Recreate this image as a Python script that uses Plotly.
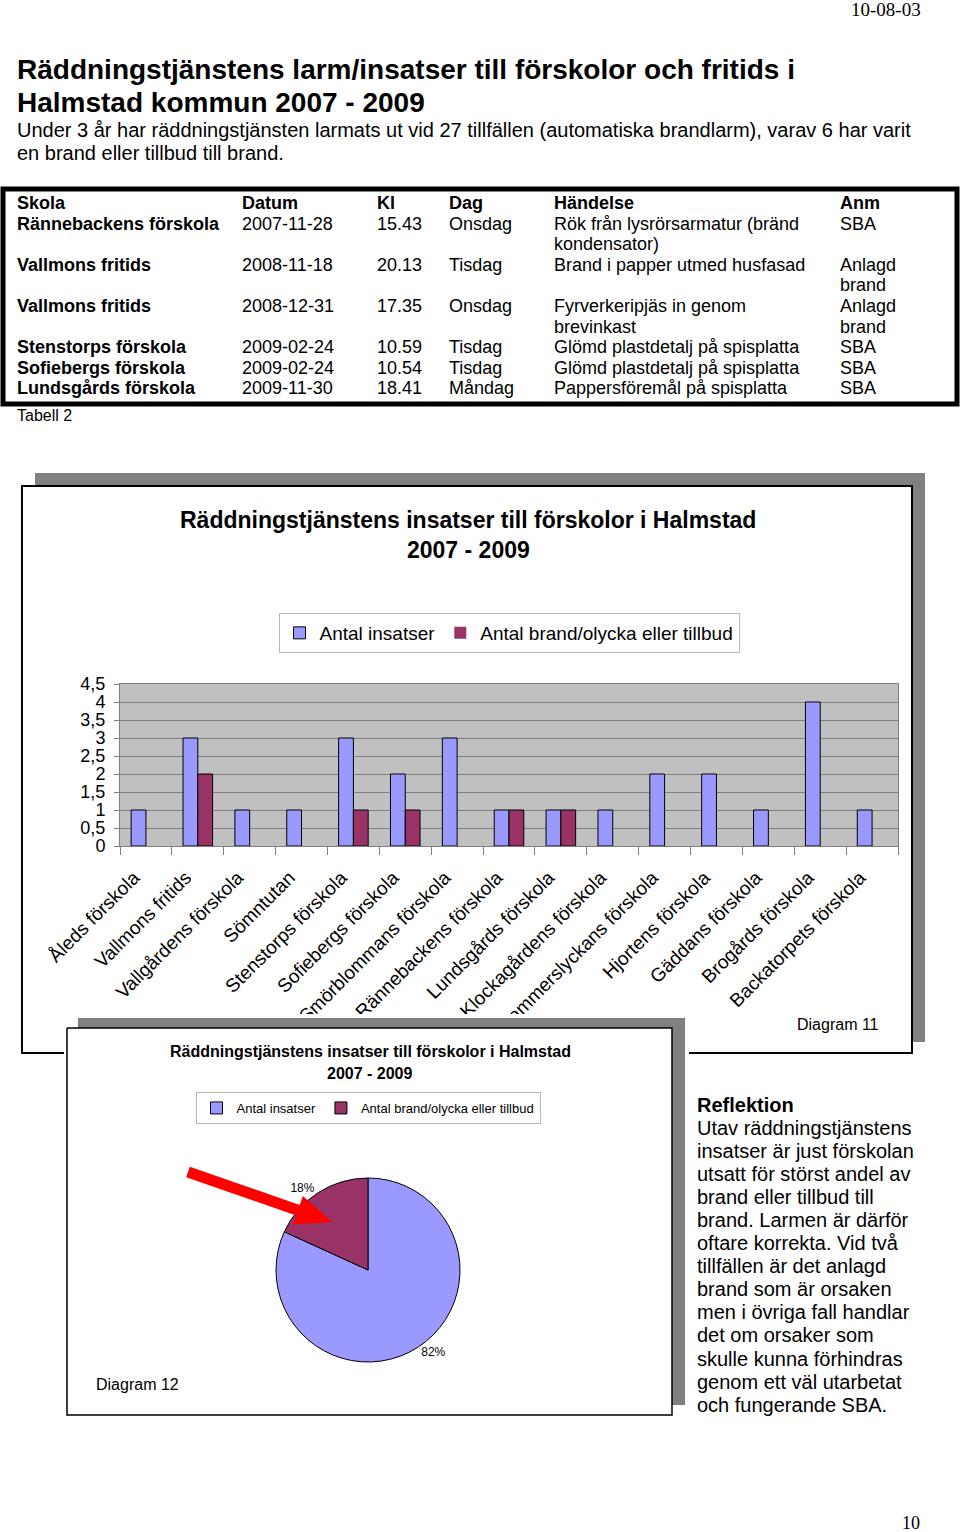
import math
import plotly.graph_objects as go

W, H = 960, 1532
def px(x): return x / W
def py(y): return 1 - y / H

FONT = "Liberation Sans, Arial, sans-serif"
SERIF = "Liberation Serif, Times New Roman, serif"

# ---------------- data ----------------
schools = ["Åleds förskola", "Vallmons fritids", "Vallgårdens förskola", "Sömntutan",
           "Stenstorps förskola", "Sofiebergs förskola", "Smörblommans förskola",
           "Rännebackens förskola", "Lundsgårds förskola", "Klockagårdens förskola",
           "Hammerslyckans förskola", "Hjortens förskola", "Gäddans förskola",
           "Brogårds förskola", "Backatorpets förskola"]
insatser = [1, 3, 1, 1, 3, 2, 3, 1, 1, 1, 2, 2, 1, 4, 1]
brand = [0, 2, 0, 0, 1, 1, 0, 1, 1, 0, 0, 0, 0, 0, 0]
series_names = ["Antal insatser", "Antal brand/olycka eller tillbud"]

table_header = ["Skola", "Datum", "Kl", "Dag", "Händelse", "Anm"]
t_skola = ["Rännebackens förskola", "Vallmons fritids", "Vallmons fritids",
           "Stenstorps förskola", "Sofiebergs förskola", "Lundsgårds förskola"]
t_datum = ["2007-11-28", "2008-11-18", "2008-12-31", "2009-02-24", "2009-02-24", "2009-11-30"]
t_kl = ["15.43", "20.13", "17.35", "10.59", "10.54", "18.41"]
t_dag = ["Onsdag", "Tisdag", "Onsdag", "Tisdag", "Tisdag", "Måndag"]
t_handelse = [["Rök från lysrörsarmatur (bränd", "kondensator)"],
              ["Brand i papper utmed husfasad"],
              ["Fyrverkeripjäs in genom", "brevinkast"],
              ["Glömd plastdetalj på spisplatta"],
              ["Glömd plastdetalj på spisplatta"],
              ["Pappersföremål på spisplatta"]]
t_anm = [["SBA"], ["Anlagd", "brand"], ["Anlagd", "brand"], ["SBA"], ["SBA"], ["SBA"]]

title_lines = ["Räddningstjänstens larm/insatser till förskolor och fritids i",
               "Halmstad kommun 2007 - 2009"]
intro_lines = ["Under 3 år har räddningstjänsten larmats ut vid 27 tillfällen (automatiska brandlarm), varav 6 har varit",
               "en brand eller tillbud till brand."]
chart_title = ["Räddningstjänstens insatser till förskolor i Halmstad", "2007 - 2009"]
reflektion = ["Utav räddningstjänstens", "insatser är just förskolan", "utsatt för störst andel av",
              "brand eller tillbud till", "brand. Larmen är därför", "oftare korrekta. Vid två",
              "tillfällen är det anlagd", "brand som är orsaken", "men i övriga fall handlar",
              "det om orsaker som", "skulle kunna förhindras", "genom ett väl utarbetat",
              "och fungerande SBA."]

BLUE = "#9999ff"
PLUM = "#993366"

fig = go.Figure()

# ---------------- bar chart (Diagram 11) ----------------
fig.add_trace(go.Bar(x=schools, y=insatser, name=series_names[0],
                     marker=dict(color=BLUE, line=dict(color="black", width=1)),
                     xaxis="x", yaxis="y", legend="legend"))
fig.add_trace(go.Bar(x=schools, y=brand, name=series_names[1],
                     marker=dict(color=PLUM, line=dict(color="black",
                                                      width=[1 if v else 0 for v in brand])),
                     xaxis="x", yaxis="y", legend="legend"))

# ---------------- frame of Diagram 12 (covers overflowing labels) ----------------
def rect_xy(x0, y0, x1, y1):
    return [x0, x1, x1, x0, x0], [y0, y0, y1, y1, y0]

frames = [((64, 1014, 689, 1419), "white", 0, "white"),
          ((78, 1018, 685, 1405), "#808080", 0, "#808080"),
          ((67, 1028, 672, 1415), "white", 1.5, "black")]
for (x0, y0, x1, y1), fc, lw, lc in frames:
    xs, ys = rect_xy(x0, y0, x1, y1)
    fig.add_trace(go.Scatter(x=xs, y=ys, mode="lines", fill="toself", fillcolor=fc,
                             line=dict(width=lw if lw else 0.1, color=lc),
                             hoverinfo="skip", showlegend=False, xaxis="x2", yaxis="y2"))

# ---------------- pie (Diagram 12) ----------------
fig.add_trace(go.Pie(labels=series_names, values=[sum(insatser), sum(brand)],
                     sort=False, direction="clockwise", rotation=0,
                     marker=dict(colors=[BLUE, PLUM], line=dict(color="black", width=1)),
                     texttemplate="%{percent:.0%}", textposition="outside",
                     textfont=dict(size=12, color="black", family=FONT),
                     domain=dict(x=[px(276), px(460)], y=[py(1362), py(1178)]),
                     legend="legend2", showlegend=True, automargin=False))

# ---------------- annotations ----------------
ann = []
def txt(x, y, s, size, bold=False, xanchor="left", family=FONT, color="black"):
    ann.append(dict(x=px(x), y=py(y), xref="paper", yref="paper", showarrow=False,
                    text=f"<b>{s}</b>" if bold else s, xanchor=xanchor, yanchor="middle",
                    font=dict(size=size, family=family, color=color), borderpad=0))

txt(922, 10, "10-08-03", 19, xanchor="right", family=SERIF)
txt(921, 1523, "10", 18, xanchor="right", family=SERIF)
for i, s in enumerate(title_lines):
    txt(16, 70 + i * 32, s, 28, bold=True)
for i, s in enumerate(intro_lines):
    txt(16, 130 + i * 23, s, 20)

# table
col_x = [16, 241, 376, 448, 553, 839]
line_h = 20.6
y0 = 203
for c, s in enumerate(table_header):
    txt(col_x[c], y0, s, 18, bold=True)
line = 1
for r in range(len(t_skola)):
    cells = [[t_skola[r]], [t_datum[r]], [t_kl[r]], [t_dag[r]], t_handelse[r], t_anm[r]]
    for c, cell in enumerate(cells):
        for k, s in enumerate(cell):
            txt(col_x[c], y0 + (line + k) * line_h, s, 18, bold=(c == 0))
    line += max(len(cell) for cell in cells)
txt(16, 415, "Tabell 2", 16)

# chart 11 texts
txt(468, 520, chart_title[0], 23, bold=True, xanchor="center")
txt(468, 550, chart_title[1], 23, bold=True, xanchor="center")
txt(796, 1024, "Diagram 11", 16)

# chart 12 texts
txt(370, 1051, chart_title[0], 16, bold=True, xanchor="center")
txt(370, 1073, chart_title[1], 16, bold=True, xanchor="center")
txt(95, 1384, "Diagram 12", 16)

# reflection
txt(696, 1105, "Reflektion", 20, bold=True)
for i, s in enumerate(reflektion):
    txt(696, 1128 + i * 23.05, s, 20)

# ---------------- shapes ----------------
shapes = []
# table border
shapes.append(dict(type="rect", xref="paper", yref="paper", x0=px(3), x1=px(957),
                   y0=py(404), y1=py(189), line=dict(color="black", width=5), layer="below"))
# chart 11 frame with shadow
shapes.append(dict(type="rect", xref="paper", yref="paper", x0=px(35), x1=px(925),
                   y0=py(1042), y1=py(473), fillcolor="#808080", line=dict(width=0), layer="below"))
shapes.append(dict(type="rect", xref="paper", yref="paper", x0=px(22), x1=px(912),
                   y0=py(1053), y1=py(486), fillcolor="white",
                   line=dict(color="black", width=2), layer="below"))
# plot area background
shapes.append(dict(type="rect", xref="x domain", yref="y domain", x0=0, x1=1, y0=0, y1=1,
                   fillcolor="#c0c0c0", line=dict(width=0), layer="below"))

# red arrow over the pie
tail, tip = (188, 1172), (332, 1222)
dx, dy = tip[0] - tail[0], tip[1] - tail[1]
L = math.hypot(dx, dy)
ux, uy = dx / L, dy / L
nx, ny = -uy, ux
head_len, shaft_w, head_w = 36, 5.5, 15
bx, by = tip[0] - head_len * ux, tip[1] - head_len * uy
pts = [(tail[0] + shaft_w * nx, tail[1] + shaft_w * ny),
       (bx + shaft_w * nx, by + shaft_w * ny),
       (bx + head_w * nx, by + head_w * ny),
       tip,
       (bx - head_w * nx, by - head_w * ny),
       (bx - shaft_w * nx, by - shaft_w * ny),
       (tail[0] - shaft_w * nx, tail[1] - shaft_w * ny)]
path = "M " + " L ".join(f"{px(x):.5f},{py(y):.5f}" for x, y in pts) + " Z"
shapes.append(dict(type="path", xref="paper", yref="paper", path=path,
                   fillcolor="#ff0000", line=dict(width=0), layer="above"))

fig.update_layout(
    width=W, height=H, margin=dict(l=0, r=0, t=0, b=0, autoexpand=False),
    paper_bgcolor="white", plot_bgcolor="rgba(0,0,0,0)",
    font=dict(family=FONT, color="black"),
    separators=", ",
    barmode="group", bargap=0.43, bargroupgap=0,
    showlegend=True,
    xaxis=dict(domain=[px(120), px(898)], type="category", tickangle=-45, automargin=False,
               tickfont=dict(size=19, color="black"), ticks="outside", tickson="boundaries",
               ticklen=8, tickcolor="#808080", showline=True, linecolor="#808080", mirror=True,
               ticklabelstandoff=12, ticklabelshift=-12,
               showgrid=False, fixedrange=True, anchor="y"),
    yaxis=dict(domain=[py(846), py(684)], range=[0, 4.5], dtick=0.5, tick0=0, automargin=False,
               ticks="outside", ticklen=5, tickcolor="#808080", showgrid=True,
               gridcolor="#808080", gridwidth=1, showline=True, linecolor="#808080", mirror=True,
               ticklabelstandoff=5,
               tickfont=dict(size=18, color="black"), zeroline=False, fixedrange=True, anchor="x"),
    xaxis2=dict(domain=[px(64), px(689)], range=[64, 689], visible=False, anchor="y2",
                automargin=False, fixedrange=True),
    yaxis2=dict(domain=[py(1419), py(1014)], range=[1419, 1014], visible=False, anchor="x2",
                automargin=False, fixedrange=True),
    legend=dict(orientation="h", x=px(509), y=py(633), xanchor="center", yanchor="middle",
                bordercolor="#b8b8b8", borderwidth=1, bgcolor="white",
                font=dict(size=19, color="black", family=FONT), traceorder="normal"),
    legend2=dict(orientation="h", x=px(368), y=py(1108), xanchor="center", yanchor="middle",
                 bordercolor="#b8b8b8", borderwidth=1, bgcolor="white",
                 font=dict(size=13, color="black", family=FONT), traceorder="normal"),
    annotations=ann,
    shapes=shapes,
)

fig.write_html("out.html", config={"displayModeBar": False},
               post_script="document.body.style.margin='0';document.body.style.overflow='hidden';")
